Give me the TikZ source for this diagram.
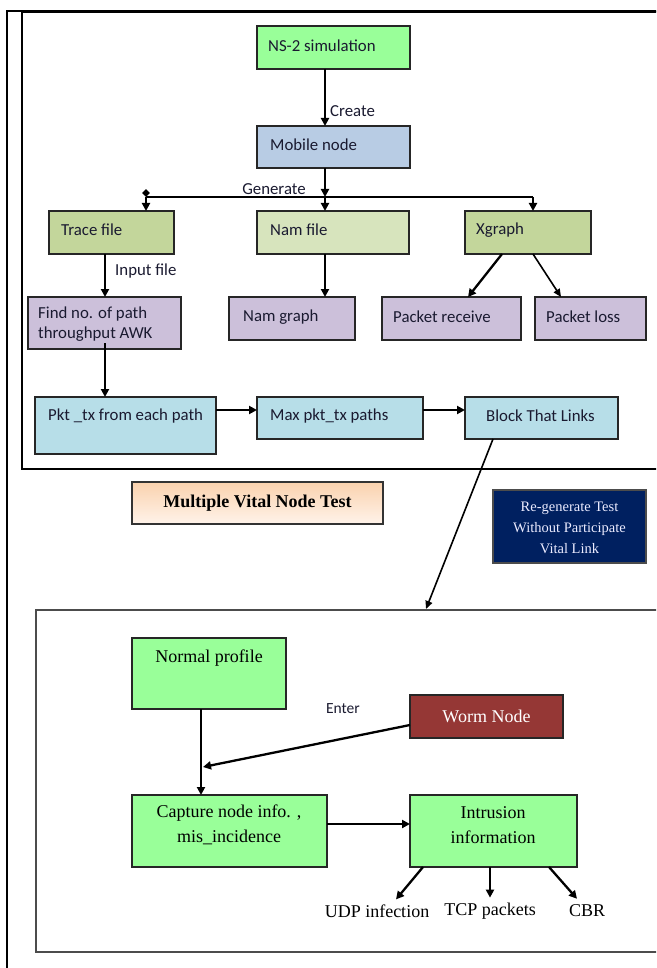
\documentclass[tikz,border=0pt]{standalone}
\usepackage{fontspec}
\setmainfont{Liberation Serif}
\newfontfamily\calib{Carlito}
\usetikzlibrary{arrows.meta,calc,shapes.geometric}
\definecolor{cgreen}{HTML}{99FF99}
\definecolor{cmob}{HTML}{B8CCE4}
\definecolor{colive}{HTML}{C3D69B}
\definecolor{cnam}{HTML}{D7E4BD}
\definecolor{cpurp}{HTML}{CCC0DA}
\definecolor{cblue}{HTML}{B7DEE8}
\definecolor{cworm}{HTML}{953735}
\definecolor{cnavy}{HTML}{002060}
\definecolor{cpeach}{HTML}{FAD2AE}
\definecolor{cpeachl}{HTML}{FFF3EA}
\definecolor{ctxt}{HTML}{1A1A30}
\begin{document}
\begin{tikzpicture}[x=1pt,y=-1pt,
  box/.style={draw=black!85, line width=1.4pt, anchor=north west, inner sep=0pt, outer sep=0pt},
  slab/.style={font=\calib\fontsize{16.8}{19.5}\selectfont, anchor=west, inner sep=0pt, text=ctxt, align=left},
  rlab/.style={font=\fontsize{18}{25}\selectfont, align=center, inner sep=0pt},
  conn/.style={line width=2.3pt},
  arr/.style={conn, -{Triangle[length=8pt,width=8pt]}},
  thinarr/.style={line width=1.6pt, -{Triangle[length=8pt,width=7pt]}}
]
\useasboundingbox (0,0) rectangle (656,968);
\clip (0,0) rectangle (656,968);
\fill[white] (0,0) rectangle (656,968);

% frames
\node[draw, line width=1.8pt, anchor=north west, minimum width=700, minimum height=457, inner sep=0pt] (upper) at (21,11) {};
\draw[line width=2.6pt] (7,968) -- (7,11) -- (680,11);
\node[draw=black!70, line width=1.8pt, anchor=north west, minimum width=700, minimum height=342, inner sep=0pt] (lower) at (35,609) {};

% column / row helpers
\coordinate (colA) at (325,0);
\coordinate (colB) at (105,0);
\coordinate (colD) at (201,0);
\coordinate (rowC) at (0,410);
\coordinate (rowE) at (0,824);
\coordinate (busL) at (146,197);
\coordinate (busR) at (533,197);
\coordinate (busM) at (325,197);
\coordinate (enterPt) at (203,767);

% upper boxes
\node[box, fill=cgreen, minimum width=153, minimum height=43] (ns) at (257,26) {};
\node[slab] (nsT) at (268,46) {NS-2 simulation};
\node[box, fill=cmob, minimum width=153, minimum height=42] (mob) at (257,126) {};
\node[slab] (mobT) at (270,145) {Mobile node};
\node[box, fill=colive, minimum width=125, minimum height=43] (trace) at (49,211) {};
\node[slab] (traceT) at (61,230) {Trace file};
\node[box, fill=cnam, minimum width=152, minimum height=43] (namf) at (257,211) {};
\node[slab] (namfT) at (270,230) {Nam file};
\node[box, fill=colive, minimum width=126, minimum height=43] (xg) at (465,211) {};
\node[slab] (xgT) at (476,230) {Xgraph};
\node[box, fill=cpurp, minimum width=153, minimum height=52] (find) at (28,297) {};
\node[slab] (findT) at (38,324) {Find no. of path\\throughput AWK};
\node[box, fill=cpurp, minimum width=126, minimum height=43] (namg) at (229,297) {};
\node[slab] (namgT) at (243,317) {Nam graph};
\node[box, fill=cpurp, minimum width=139, minimum height=43] (prec) at (382,297) {};
\node[slab] (precT) at (393,317) {Packet receive};
\node[box, fill=cpurp, minimum width=111, minimum height=43] (ploss) at (535,297) {};
\node[slab] (plossT) at (546,317) {Packet loss};
\node[box, fill=cblue, minimum width=181, minimum height=57] (pkt) at (35,397) {};
\node[slab] (pktT) at (48,416) {Pkt \_tx from each path};
\node[box, fill=cblue, minimum width=166, minimum height=42] (max) at (257,397) {};
\node[slab] (maxT) at (270,416) {Max pkt\_tx paths};
\node[box, fill=cblue, minimum width=153, minimum height=42] (blk) at (465,397) {};
\node[slab] (blkT) at (486,416) {Block That Links};

% labels upper
\node[slab] (createT) at (330,111) {Create};
\node[slab, anchor=center] (genT) at (274,189) {Generate};
\node[slab] (inputT) at (115,271) {Input file};

% middle
\node[box, draw=black!80, top color=cpeach, bottom color=cpeachl, minimum width=251, minimum height=42] (mvt) at (132,482) {};
\node[rlab, font=\bfseries\fontsize{18}{22}\selectfont] (mvtT) at (mvt.center) {Multiple Vital Node Test};
\node[box, fill=cnavy, draw=black!70, minimum width=153, minimum height=73] (regen) at (493,490) {};
\node[rlab, font=\fontsize{14.5}{21}\selectfont, text=white!92!blue] (regenT) at ($(regen.center)+(0,1)$) {Re-generate Test\\Without Participate\\Vital Link};

% lower boxes
\node[box, fill=cgreen, minimum width=154, minimum height=71] (normal) at (132,638) {};
\node[rlab] (normalT) at (209,658) {Normal profile};
\node[box, fill=cworm, minimum width=153, minimum height=43] (worm) at (410,695) {};
\node[rlab, text=white] (wormT) at (worm.center) {Worm Node};
\node[box, fill=cgreen, minimum width=195, minimum height=72] (cap) at (132,795) {};
\node[rlab] (capT) at (229,825) {Capture node info. ,\\mis\_incidence};
\node[box, fill=cgreen, minimum width=167, minimum height=72] (intr) at (410,795) {};
\node[rlab] (intrT) at (493,825) {Intrusion\\information};
\node[slab, anchor=center, font=\calib\fontsize{15.5}{18}\selectfont] (enterT) at (343,709) {Enter};
\node[rlab] (udp) at (377,911) {UDP infection};
\node[rlab] (tcp) at (490,911) {TCP packets};
\node[rlab] (cbr) at (587,911) {CBR};

% connectors upper
\draw[arr] (ns.south -| colA) -- (mob.north -| colA);
\draw[arr] (mob.south -| colA) -- (busM);
\draw[conn] (busL) -- (busR);
\node[diamond, fill=black, inner sep=0pt, minimum size=8pt] (busdot) at (146,193) {};
\draw[arr] (busL) -- (trace.north -| busL);
\draw[arr] (busM) -- (namf.north -| colA);
\draw[arr] (busR) -- (xg.north -| busR);
\draw[arr] (trace.south -| colB) -- (find.north -| colB);
\draw[arr] (namf.south -| colA) -- (namg.north -| colA);
\draw[arr] ($(xg.south west)+(37,0)$) -- ($(prec.north west)+(86,0)$);
\draw[thinarr] (xg.south -| busR) -- ($(ploss.north west)+(26,0)$);
\draw[arr] ($(find.south -| colB)+(0,-6)$) -- (pkt.north -| colB);
\draw[arr] (pkt.east |- rowC) -- (max.west |- rowC);
\draw[arr] (max.east |- rowC) -- (blk.west |- rowC);
\draw[thinarr] ($(blk.south west)+(28,0)$) -- ($(lower.north west)+(391,0)$);

% connectors lower
\draw[arr] (normal.south -| colD) -- (cap.north -| colD);
\draw[arr] ($(worm.south west)+(0,-13)$) -- (enterPt);
\draw[arr] (cap.east |- rowE) -- (intr.west |- rowE);
\draw[arr] ($(intr.south west)+(13,0)$) -- ($(udp.north)+(19,-5)$);
\draw[arr] (intr.south -| tcp) -- ($(tcp.north)+(0,-5)$);
\draw[arr] ($(intr.south west)+(139,0)$) -- ($(cbr.north)+(-10,-6)$);
\end{tikzpicture}
\end{document}
